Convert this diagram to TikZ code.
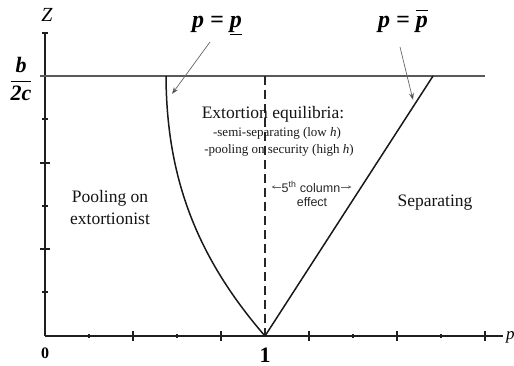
\documentclass[tikz,border=0pt]{standalone}
\usepackage{fontspec}
\setmainfont{Liberation Serif}
\newfontfamily\sansf{Liberation Sans}
\usetikzlibrary{arrows.meta}
\tikzset{
  axisline/.style={draw=black!88, line width=1.3pt},
  capline/.style={draw=black!65, line width=2pt},
  bound/.style={draw=black!90, line width=1.5pt},
  dashline/.style={draw=black!85, line width=1.2pt, dash pattern=on 9pt off 5pt},
  majortick/.style={draw=black!88, line width=1.1pt},
  minortick/.style={draw=black!88, line width=1.1pt},
  region/.style={inner sep=0pt, align=center, font=\fontsize{17.5}{22}\selectfont, text=black!92},
  sub/.style={inner sep=0pt, font=\fontsize{13}{15}\selectfont, text=black!90},
  mathlbl/.style={inner sep=0pt, font=\fontsize{24}{24}\selectfont\bfseries\itshape},
  callout/.style={draw=black!60, line width=0.7pt, -{Stealth[length=7pt,width=5pt,fill=black]}},
  colarrow/.style={draw=black!60, line width=0.8pt, -{Stealth[length=3.5pt,width=3.5pt]}},
}
\begin{document}
\begin{tikzpicture}[x=1pt,y=-1pt]
\useasboundingbox (0,0) rectangle (514,366);
\clip (0,0) rectangle (514,366);
% key points
\coordinate (O) at (45,336);
\coordinate (ytop) at (45,33);
\coordinate (xend) at (503,336);
\coordinate (one) at (265,336);
\coordinate (hl) at (40,76);
\coordinate (hr) at (485,76);
\coordinate (lcap) at (166,76);
\coordinate (rcap) at (433,76);
\coordinate (dtop) at (265,76);
\coordinate (arrL) at (172,94);
\coordinate (arrR) at (413,100);
\coordinate (arrLs) at (210,42);
\coordinate (arrRs) at (400,47);
% axes
\draw[axisline] (O) -- (ytop);
\draw[axisline] (O) -- (xend);
\foreach \x in {133,221,309,397,485} \draw[majortick] (\x,331) -- (\x,341);
\foreach \x in {89,177,353,441} \draw[minortick] (\x,334) -- (\x,338);
\foreach \y in {163,249} \draw[majortick] (40,\y) -- (50,\y);
\foreach \y in {33,119,206,292} \draw[minortick] (42,\y) -- (48,\y);
% cap line b/2c
\draw[capline] (hl) -- (hr);
% dashed vertical
\draw[dashline] (dtop) -- (one);
% lower bound curve
\draw[bound] (lcap) .. controls (166.5,172) and (193,253) .. (one);
% upper bound line
\draw[bound] (rcap) -- (one);
% labels
\node[inner sep=0pt, font=\fontsize{20}{20}\selectfont\itshape] (Z) at (47,15) {Z};
\node[inner sep=0pt, font=\fontsize{22}{22}\selectfont\bfseries\itshape] (frac) at (21,79) {$\displaystyle\frac{\hbox{b}}{\hbox{2c}}$};
\node[mathlbl, anchor=base] (plow) at (217,28) {p = \underline{p}};
\node[mathlbl, anchor=base] (phigh) at (403,28) {p = $\overline{\hbox{\vphantom{d}p}}$};
\draw[callout] (arrLs) -- (arrL);
\draw[callout] (arrRs) -- (arrR);
\node[region, anchor=base] (ext) at (273,119) {Extortion equilibria:};
\node[sub, anchor=base] (semi) at (277,137) {-semi-separating (low \textit{h})};
\node[sub, anchor=base] (pool) at (279,154) {-pooling on security (high \textit{h})};
\node[inner sep=0pt, font=\sansf\fontsize{12.5}{14}\selectfont, text=black!85] (col) at (311,187) {5\textsuperscript{th} column};
\node[inner sep=0pt, font=\sansf\fontsize{12.5}{14}\selectfont, text=black!85, anchor=base] (eff) at (312,207) {effect};
\draw[colarrow] ([xshift=-1pt]col.west) -- ++(-9,0);
\draw[colarrow] ([xshift=1pt]col.east) -- ++(10,0);
\node[region] (pext) at (110,208) {Pooling on\\extortionist};
\node[region, anchor=base] (sep) at (435,207) {Separating};
\node[inner sep=0pt, anchor=base, font=\fontsize{16}{16}\selectfont\bfseries] (zero) at (45,358) {0};
\node[inner sep=0pt, anchor=base, font=\fontsize{22}{22}\selectfont\bfseries] (onel) at (265,362) {1};
\node[inner sep=0pt, anchor=west, font=\fontsize{17}{17}\selectfont\itshape] (pax) at (506,337) {p};
\end{tikzpicture}
\end{document}
